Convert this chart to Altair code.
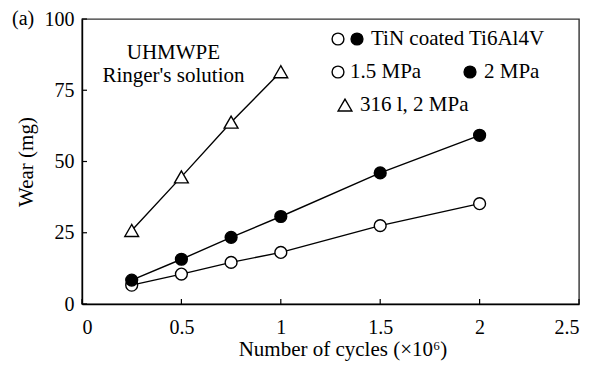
import altair as alt
import pandas as pd

# ---- data ----
cycles_316 = [0.25, 0.5, 0.75, 1.0]
wear_316 = [25.8, 44.6, 63.8, 81.5]
cycles_tin = [0.25, 0.5, 0.75, 1.0, 1.5, 2.0]
wear_tin_15 = [6.6, 10.5, 14.6, 18.1, 27.5, 35.2]
wear_tin_2 = [8.4, 15.7, 23.4, 30.7, 46.0, 59.2]
x_ticks = [0, 0.5, 1, 1.5, 2, 2.5]
y_ticks = [0, 25, 50, 75, 100]

W, H = 497, 285
FONT = "Liberation Serif"
TS = 21

d316 = pd.DataFrame({"cycles": cycles_316, "wear": wear_316})
d15 = pd.DataFrame({"cycles": cycles_tin, "wear": wear_tin_15})
d2 = pd.DataFrame({"cycles": cycles_tin, "wear": wear_tin_2})

xs = alt.Scale(domain=[0, 2.5], nice=False, zero=False)
ys = alt.Scale(domain=[0, 100], nice=False, zero=False)

X = alt.X("cycles:Q", scale=xs, axis=alt.Axis(values=x_ticks, title="Number of cycles (×10⁶)",
                                               format="~g", grid=False, ticks=False,
                                               labelPadding=13, titlePadding=1, titleX=W / 2 + 12))
Y = alt.Y("wear:Q", scale=ys, axis=alt.Axis(values=y_ticks, title="Wear (mg)", grid=False,
                                             ticks=False, labelPadding=8, titlePadding=8))


def series(d, shape, fill, size):
    ln = alt.Chart(d).mark_line(color="black", strokeWidth=1.4).encode(x=X, y=Y)
    pt = alt.Chart(d).mark_point(shape=shape, filled=True, fill=fill, stroke="black",
                                 strokeWidth=1.4, size=size, opacity=1).encode(x=X, y=Y)
    return ln + pt


s316 = series(d316, "triangle-up", "white", 190)
s15 = series(d15, "circle", "white", 140)
s2 = series(d2, "circle", "black", 140)

# inward ticks
xt = alt.Chart(pd.DataFrame({"cycles": x_ticks})).mark_rule(color="black", strokeWidth=1.2).encode(
    x=alt.X("cycles:Q", scale=xs), y=alt.value(H), y2=alt.value(H - 5))
yt = alt.Chart(pd.DataFrame({"wear": y_ticks})).mark_rule(color="black", strokeWidth=1.2).encode(
    y=alt.Y("wear:Q", scale=ys), x=alt.value(0), x2=alt.value(5))

# annotation
note = alt.Chart(pd.DataFrame({"cycles": [0.46, 0.46], "wear": [88, 80],
                               "t": ["UHMWPE", "Ringer's solution"]})).mark_text(
    font=FONT, fontSize=TS, color="black", align="center", baseline="middle").encode(
    x=alt.X("cycles:Q", scale=xs), y=alt.Y("wear:Q", scale=ys), text="t:N")

panel = alt.Chart(pd.DataFrame({"t": ["(a)"]})).mark_text(
    font=FONT, fontSize=20, color="black", align="left", baseline="middle").encode(
    x=alt.value(-70), y=alt.value(0), text="t:N")


def leg_text(label, px, py):
    return alt.Chart(pd.DataFrame({"t": [label]})).mark_text(
        font=FONT, fontSize=TS, color="black", align="left", baseline="middle").encode(
        x=alt.value(px), y=alt.value(py), text="t:N")


def leg_sym(shape, fill, size, px, py):
    return alt.Chart(pd.DataFrame({"t": [shape]})).mark_point(
        shape=shape, filled=True, fill=fill, stroke="black", strokeWidth=1.4, size=size,
        opacity=1).encode(x=alt.value(px), y=alt.value(py))


legend = (
    leg_sym("circle", "white", 140, 256, 20) + leg_sym("circle", "black", 140, 275, 20)
    + leg_text("TiN coated Ti6Al4V", 289, 20)
    + leg_sym("circle", "white", 140, 256, 53) + leg_text("1.5 MPa", 268, 53)
    + leg_sym("circle", "black", 140, 388, 53) + leg_text("2 MPa", 402, 53)
    + leg_sym("triangle-up", "white", 190, 263, 86) + leg_text("316 l, 2 MPa", 278, 86)
)

chart = alt.layer(xt, yt, s316, s15, s2, note, panel, legend).properties(
    width=W, height=H,
    background="white",
    autosize=alt.AutoSizeParams(type="none"),
    padding={"left": 74, "top": 11, "right": 12, "bottom": 60},
).configure_view(stroke="#333333", strokeWidth=1.4).configure_axis(
    labelFont=FONT, titleFont=FONT, labelFontSize=20, titleFontSize=TS,
    labelColor="black", titleColor="black", titleFontWeight="normal",
    domainColor="black", domainWidth=1.4,
).configure_text(font=FONT)

chart.save("out.html", embed_options={"renderer": "svg", "actions": False})
